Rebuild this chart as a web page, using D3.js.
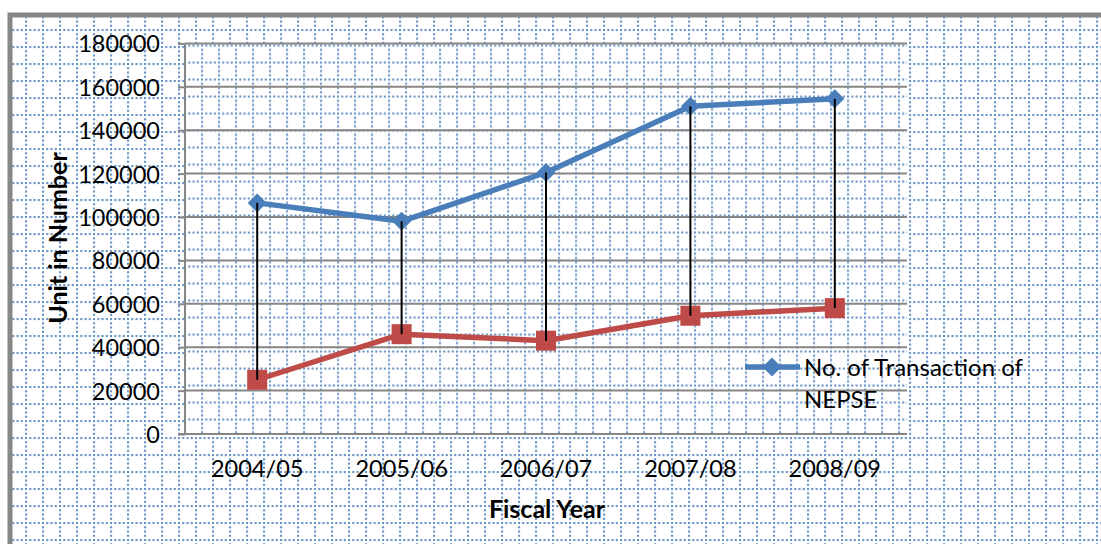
<!DOCTYPE html>
<html>
<head>
<meta charset="utf-8">
<script src="https://cdn.jsdelivr.net/npm/d3@7"></script>
<style>
  html, body { margin: 0; padding: 0; background: #fff; }
  svg { display: block; font-family: Lato, "Open Sans", sans-serif; }
</style>
</head>
<body>
<svg id="chart" width="1101" height="544"></svg>
<script>
// Fiscal years on the category axis
const categories = ["2004/05", "2005/06", "2006/07", "2007/08", "2008/09"];
// No. of Transaction of NEPSE
const transactions = [106500, 98000, 120500, 151000, 154500];
// Second series (red)
const secondSeries = [25000, 46000, 43000, 54500, 58000];
// Value axis ticks
const yTicks = [0, 20000, 40000, 60000, 80000, 100000, 120000, 140000, 160000, 180000];

const svg = d3.select("#chart");
const W = 1101, H = 544;
const plot = { left: 185, right: 907, top: 43.4, bottom: 434 };

const x = d3.scaleBand().domain(categories).range([plot.left, plot.right]);
const y = d3.scaleLinear().domain([0, 180000]).range([plot.bottom, plot.top]);
const cx = d => x(d) + x.bandwidth() / 2;

// Dotted grid fill used for the chart and plot backgrounds
const defs = svg.append("defs");
function dotGrid(id, ox, oy) {
  const p = defs.append("pattern")
    .attr("id", id)
    .attr("patternUnits", "userSpaceOnUse")
    .attr("x", ox).attr("y", oy)
    .attr("width", 17).attr("height", 17);
  const step = 17 / 4;
  for (let i = 0; i < 4; i++) {
    p.append("rect").attr("x", 0).attr("y", i * step)
      .attr("width", 2.1).attr("height", 2.1).attr("fill", "#4f81bd").attr("opacity", 0.85);
    if (i > 0) {
      p.append("rect").attr("x", i * step).attr("y", 0)
        .attr("width", 2.1).attr("height", 2.1).attr("fill", "#4f81bd").attr("opacity", 0.85);
    }
  }
}
dotGrid("outerGrid", 25, 29);
dotGrid("innerGrid", 184, 44.5);

// Chart area
svg.append("rect").attr("x", 10).attr("y", 15).attr("width", W + 20).attr("height", H + 20)
  .attr("fill", "#fff");
svg.append("rect").attr("x", 10).attr("y", 15).attr("width", W + 20).attr("height", H + 20)
  .attr("fill", "url(#outerGrid)")
  .attr("stroke", "#878787").attr("stroke-width", 5);

// Plot area
svg.append("rect").attr("x", plot.left).attr("y", plot.top)
  .attr("width", plot.right - plot.left).attr("height", plot.bottom - plot.top)
  .attr("fill", "#fff");
svg.append("rect").attr("x", plot.left).attr("y", plot.top)
  .attr("width", plot.right - plot.left).attr("height", plot.bottom - plot.top)
  .attr("fill", "url(#innerGrid)");

// Horizontal gridlines
svg.append("g").selectAll("line").data(yTicks.slice(1)).join("line")
  .attr("x1", plot.left).attr("x2", plot.right)
  .attr("y1", d => y(d)).attr("y2", d => y(d))
  .attr("stroke", "#868686").attr("stroke-width", 2);

// Value axis
const yAxis = svg.append("g")
  .attr("transform", `translate(${plot.left},0)`)
  .call(d3.axisLeft(y).tickValues(yTicks).tickSize(7).tickPadding(18).tickFormat(d3.format("d")));
yAxis.select(".domain").attr("stroke", "#868686").attr("stroke-width", 2)
  .attr("d", `M0,${plot.top}V${plot.bottom}`);
yAxis.selectAll(".tick line").attr("stroke", "#868686").attr("stroke-width", 2);
yAxis.selectAll(".tick text").attr("font-size", 23.5).attr("fill", "#000")
  .attr("font-family", "Lato, sans-serif").attr("dy", "0.36em");

// Category axis
svg.append("line").attr("x1", plot.left - 7).attr("x2", plot.right)
  .attr("y1", plot.bottom).attr("y2", plot.bottom)
  .attr("stroke", "#868686").attr("stroke-width", 2);
svg.append("g").selectAll("text").data(categories).join("text")
  .attr("x", d => cx(d)).attr("y", 477)
  .attr("text-anchor", "middle").attr("font-size", 23.5).attr("fill", "#000")
  .text(d => d);

// Axis titles
svg.append("text").attr("x", 547).attr("y", 518).attr("text-anchor", "middle")
  .attr("font-size", 25).attr("font-weight", "bold").attr("fill", "#000").text("Fiscal Year");
svg.append("text").attr("transform", "translate(67,238) rotate(-90)").attr("text-anchor", "middle")
  .attr("font-size", 25).attr("font-weight", "bold").attr("fill", "#000").text("Unit in Number");

// Series lines
const line = d3.line().x((d, i) => cx(categories[i])).y(d => y(d));
svg.append("path").datum(transactions).attr("d", line)
  .attr("fill", "none").attr("stroke", "#4a7ebb").attr("stroke-width", 5.5).attr("stroke-linejoin", "round");
svg.append("path").datum(secondSeries).attr("d", line)
  .attr("fill", "none").attr("stroke", "#be4b48").attr("stroke-width", 5.5).attr("stroke-linejoin", "round");

// Markers
const diamond = s => `M0,${-s}L${s},0L0,${s}L${-s},0Z`;
svg.append("g").selectAll("path").data(transactions).join("path")
  .attr("transform", (d, i) => `translate(${cx(categories[i])},${y(d)})`)
  .attr("d", diamond(9.5)).attr("fill", "#4a7ebb");
svg.append("g").selectAll("rect").data(secondSeries).join("rect")
  .attr("x", (d, i) => cx(categories[i]) - 10).attr("y", d => y(d) - 10)
  .attr("width", 20).attr("height", 20).attr("fill", "#be4b48");

// High-low lines between the two series
svg.append("g").selectAll("line").data(categories).join("line")
  .attr("x1", d => cx(d)).attr("x2", d => cx(d))
  .attr("y1", (d, i) => y(transactions[i])).attr("y2", (d, i) => y(secondSeries[i]))
  .attr("stroke", "#000").attr("stroke-width", 2);

// Legend
const lg = svg.append("g");
lg.append("line").attr("x1", 745).attr("x2", 800).attr("y1", 367).attr("y2", 367)
  .attr("stroke", "#4a7ebb").attr("stroke-width", 5.5);
lg.append("path").attr("transform", "translate(772,367)").attr("d", diamond(9.5)).attr("fill", "#4a7ebb");
lg.append("text").attr("x", 804).attr("y", 376).attr("font-size", 24).attr("fill", "#000")
  .text("No. of Transaction of");
lg.append("text").attr("x", 804).attr("y", 408).attr("font-size", 24).attr("fill", "#000")
  .text("NEPSE");
</script>
</body>
</html>
